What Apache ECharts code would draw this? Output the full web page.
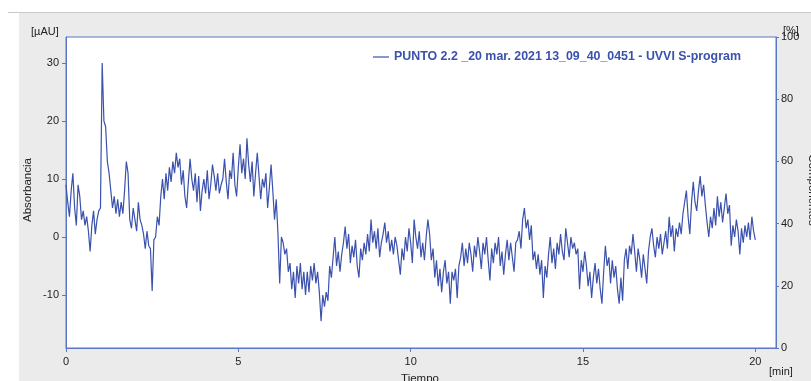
<!DOCTYPE html>
<html>
<head>
<meta charset="utf-8">
<script src="https://cdn.jsdelivr.net/npm/echarts@6/dist/echarts.min.js"></script>
<style>
  html, body { margin: 0; padding: 0; background: #ffffff; }
  #chart { width: 811px; height: 381px; }
</style>
</head>
<body>
<div id="chart"></div>
<script>
// Absorbance trace, sampled every 0.05 min; one row per minute (20 samples each)
const SAMPLE_STEP_MIN = 0.05;
const min00 = [9, 6, 3.5, 8, 11, 5, 2, 9, 7, 3, 4.5, 2, 3.5, 1, -2.5, 2, 4.5, 0.5, 3, 4.5];
const min01 = [5, 30, 20, 19, 13, 11, 8, 5, 7, 4, 6.5, 3.5, 6, 4, 8, 13, 11, 3, 1.5, 5];
const min02 = [3, 1, 6, 3, 2, 0.5, -2, 1, -1.5, -2, -9.3, -0.5, 0, 3.5, 2, 7, 10, 6.5, 11, 8];
const min03 = [12, 9.5, 13, 11, 14.5, 12, 13.5, 9, 11.5, 7, 5, 9.5, 13.5, 10, 8, 11, 6, 10.5, 4.5, 8];
const min04 = [10, 7.5, 11.5, 6.5, 9, 12.5, 10.5, 8, 11, 7.5, 9, 10, 13.5, 9.5, 6.5, 11.5, 10, 14.5, 9, 7];
const min05 = [12, 16, 11, 13.5, 10, 17, 12.5, 9.5, 13, 7, 11, 14.5, 10.5, 6.5, 10, 8.5, 11, 5, 8.5, 12.5];
const min06 = [8, 3, 6.5, 0.5, -8, 0, -1, -3, -2, -6, -4.5, -9, -6, -10.5, -5, -8, -4.5, -9, -6, -10];
const min07 = [-6, -9.5, -5, -7.5, -4.5, -8, -6, -9.5, -14.5, -10, -12, -9.5, -11, -5, -7, -3.5, 0, -5, -2.5, -6];
const min08 = [-3, -1, 1.8, -2, 0.5, -4.5, -1.5, -3.5, -0.5, -5, -7, -2, -4, -1, -3, 0.5, -2.5, 3, -1, 1];
const min09 = [-2, 1.5, -3.5, -1, 0.5, 2.5, -1, 1, -2.5, -0.5, -3, 0, -1.5, -4, -6.5, -2, -4, 0, -2.5, 1.5];
const min10 = [-1, -4.5, 3, 0, -2, 1, -3.5, -1, -4, 0, 3, 0.5, -4, -2, -7, -4, -8.5, -5.5, -9.5, -6];
const min11 = [-4, -8, -6, -11.5, -6, -7.5, -5.5, -10.5, -5, -3.5, -1, -5, -2, -4.5, -1, -3, -6, -1.5, -3.5, 0];
const min12 = [-2.5, -5.5, -1, -3, 0, -4, -7.5, -2, -4.5, -1, -3, 0, -5, -2.5, -6.5, -3, -0.5, -4, -1, -3.5];
const min13 = [-6, -1, -0.5, 1, -2, 3, 5, 1.5, 3, -0.5, 2, -4, -2.5, -5.5, -3, -6.5, -4, -10.5, -5, -7];
const min14 = [-3, 0, -4.5, -2, -5.5, -1, -3, 0.5, -2.5, -4, 1.5, -1, -3.5, 0, -2, -1, -3, -2, -9, -4];
const min15 = [-6, -2.5, -5, -8.5, -6, -10.5, -7, -4.5, -8, -5.5, -9, -11.5, -6, -1.5, -5, -3.5, -8, -4, -7, -5];
const min16 = [-9, -11.5, -7, -11, -4, -2, -5.5, -1.5, -3, 0.5, -2.5, -6, -2, -4, -7, -3, -5.5, -8, -2.5, 0];
const min17 = [1.5, -1.5, -3.5, 0, -2, 0.5, -3, -1, 1, -2, 3.5, 0, 2, -2.5, 1.5, 0, 2.5, 0.5, 4, 6];
const min18 = [8, 3.5, 0.5, 6, 9.5, 6, 4.5, 8, 10.5, 7, 9, 5.5, 2.5, 0, 3.5, 1.5, 5, 2, 7, 3.5];
const min19 = [6, 2.5, 5, 7.5, 4, 5.5, -1.5, 2, 0, 3, 1, -3, 1.5, -1, 2, 0, 2.5, -0.5, 3.5, 1];
const min20 = [-0.5];

// Axis ticks
const leftTicks = [-10, 0, 10, 20, 30];
const timeTicks = [0, 5, 10, 15, 20];
const pctTicks = [0, 20, 40, 60, 80, 100];

const seriesName = 'PUNTO 2.2 _20 mar. 2021 13_09_40_0451 - UVVI S-program';

const absorbance = [].concat(min00, min01, min02, min03, min04, min05, min06, min07,
  min08, min09, min10, min11, min12, min13, min14, min15, min16, min17, min18, min19, min20);
const points = absorbance.map((v, i) => [+(i * SAMPLE_STEP_MIN).toFixed(2), v]);

const FONT = 'Liberation Sans';
const AXIS_BLUE = '#5a76c6';
const LINE_BLUE = '#3a51ad';

const chart = echarts.init(document.getElementById('chart'), null, { renderer: 'canvas' });

chart.setOption({
  backgroundColor: '#ffffff',
  animation: false,
  textStyle: { fontFamily: FONT },
  grid: {
    left: 66, right: 35, top: 37, bottom: 33,
    show: true, backgroundColor: '#ffffff', borderColor: AXIS_BLUE, borderWidth: 1
  },
  legend: {
    left: 368, top: 46,
    icon: 'rect', itemWidth: 16, itemHeight: 1.2, itemGap: 6,
    textStyle: { color: LINE_BLUE, fontWeight: 'bold', fontSize: 12.4, fontFamily: FONT },
    data: [seriesName]
  },
  graphic: [
    { type: 'rect', z: -10, shape: { x: 19, y: 13, width: 792, height: 368 }, style: { fill: '#ebebeb' } },
    { type: 'line', z: -9, shape: { x1: 8, y1: 12.5, x2: 811, y2: 12.5 }, style: { stroke: '#c9c9c9', lineWidth: 1 } },
    { type: 'text', x: 31, y: 26, style: { text: '[µAU]', font: '11px ' + FONT, fill: '#222' } },
    { type: 'text', x: 22, y: 190, rotation: Math.PI / 2,
      style: { text: 'Absorbancia', font: '11.5px ' + FONT, fill: '#222', align: 'center', verticalAlign: 'top' } },
    { type: 'text', x: 420, y: 373, style: { text: 'Tiempo', font: '11.5px ' + FONT, fill: '#222', align: 'center' } },
    { type: 'text', x: 769, y: 366, style: { text: '[min]', font: '11px ' + FONT, fill: '#222' } },
    { type: 'text', x: 783, y: 25, style: { text: '[%]', font: '11px ' + FONT, fill: '#222' } },
    { type: 'text', x: 818, y: 190, rotation: -Math.PI / 2,
      style: { text: 'Componentes', font: '11.5px ' + FONT, fill: '#222', align: 'center', verticalAlign: 'top' } }
  ],
  xAxis: {
    type: 'value', min: 0, max: 20.6, interval: 5,
    axisLine: { show: true, onZero: false, lineStyle: { color: AXIS_BLUE } },
    axisTick: { show: true, inside: false, length: 4, lineStyle: { color: AXIS_BLUE }, customValues: timeTicks },
    axisLabel: { color: '#222', fontSize: 11, margin: 8, customValues: timeTicks, fontFamily: FONT },
    splitLine: { show: false }
  },
  yAxis: [
    {
      type: 'value', min: -19.14, max: 34.48, position: 'left',
      axisLine: { show: true, onZero: false, lineStyle: { color: AXIS_BLUE } },
      axisTick: { show: true, length: 4, lineStyle: { color: AXIS_BLUE }, customValues: leftTicks },
      axisLabel: { color: '#222', fontSize: 11, margin: 7, customValues: leftTicks, fontFamily: FONT },
      splitLine: { show: false }
    },
    {
      type: 'value', min: 0, max: 100, interval: 20, position: 'right',
      axisLine: { show: true, onZero: false, lineStyle: { color: AXIS_BLUE } },
      axisTick: { show: true, length: 3, lineStyle: { color: AXIS_BLUE }, customValues: pctTicks },
      axisLabel: { color: '#222', fontSize: 11, margin: 5, customValues: pctTicks, fontFamily: FONT },
      splitLine: { show: false }
    }
  ],
  series: [{
    name: seriesName,
    type: 'line',
    data: points,
    showSymbol: false,
    symbol: 'none',
    yAxisIndex: 0,
    lineStyle: { color: LINE_BLUE, width: 1.2 },
    itemStyle: { color: LINE_BLUE }
  }]
});
</script>
</body>
</html>
